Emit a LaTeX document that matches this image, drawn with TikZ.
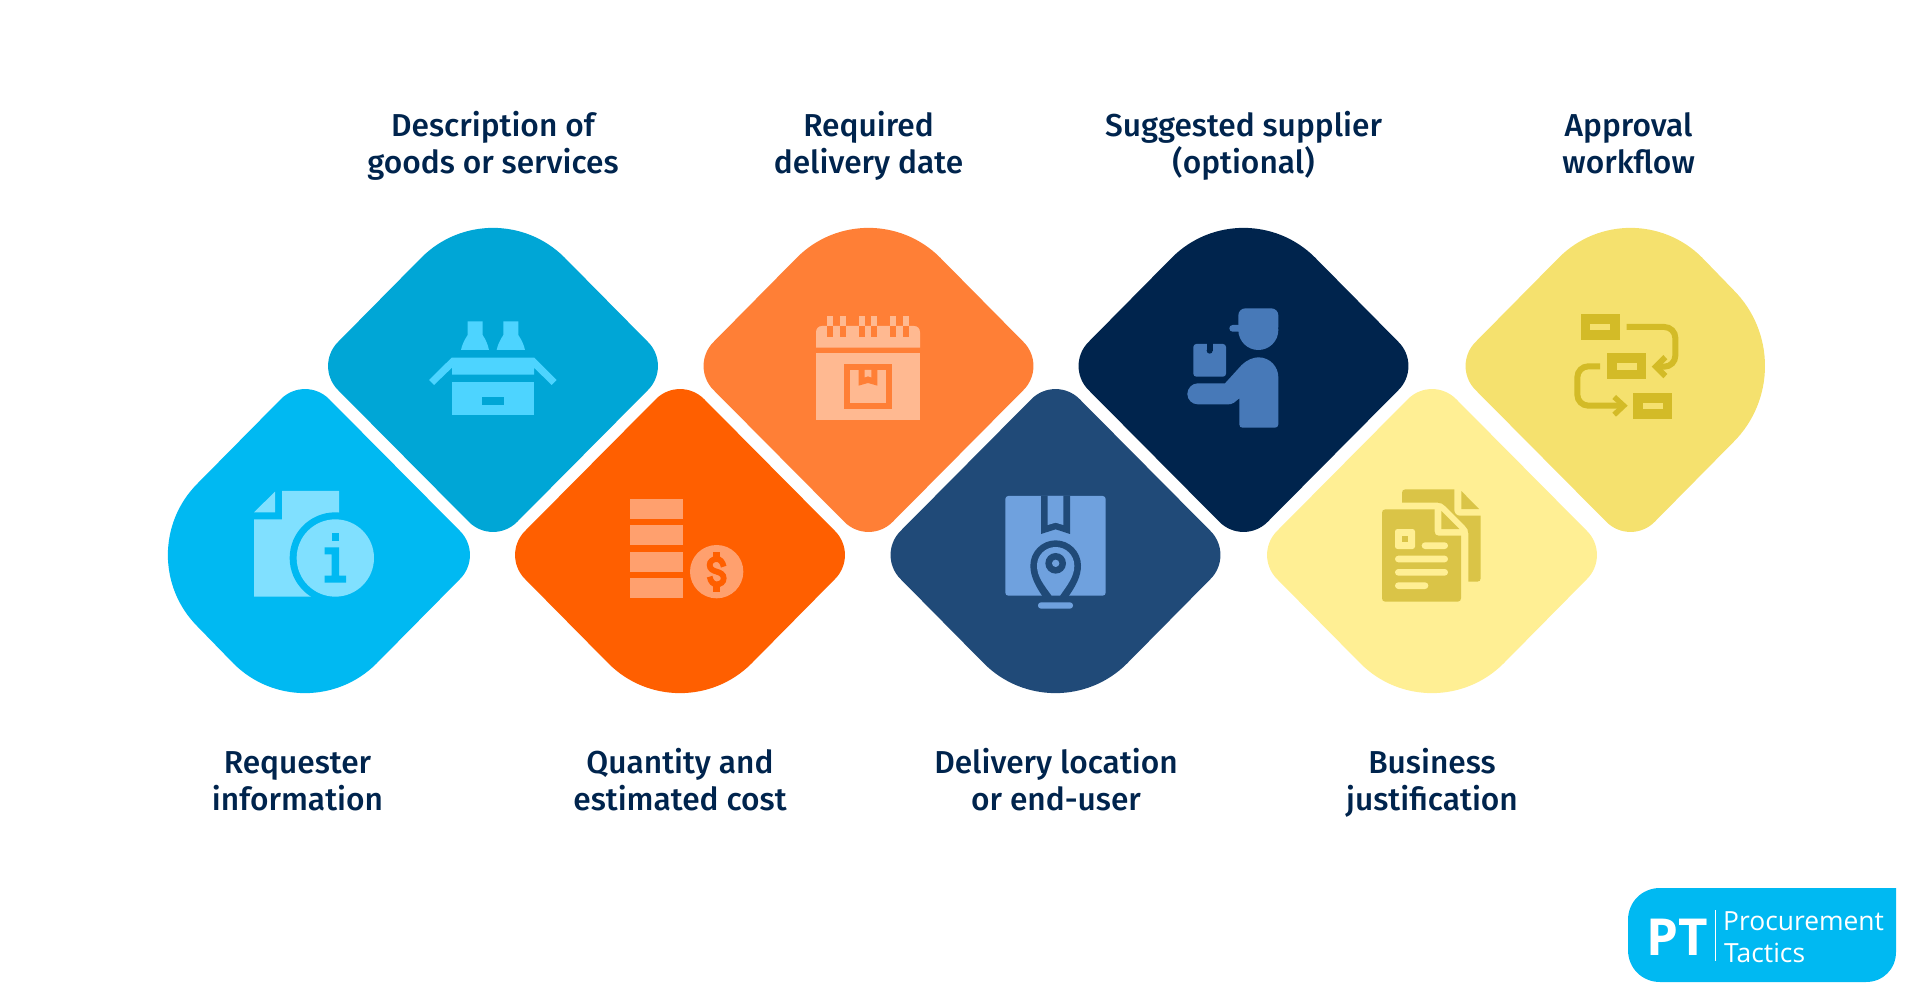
\documentclass[tikz,border=0pt]{standalone}
\usepackage{fontspec}
\setmainfont{Fira Sans Medium}
\newfontfamily\logofont{Open Sans}
\definecolor{d1}{HTML}{00B9F2}\definecolor{i1}{HTML}{80E0FF}
\definecolor{d2}{HTML}{00A6D6}\definecolor{i2}{HTML}{4DD4FF}
\definecolor{d3}{HTML}{FF5F00}\definecolor{i3}{HTML}{FFA06E}
\definecolor{d4}{HTML}{FF7F36}\definecolor{i4}{HTML}{FFB991}
\definecolor{d5}{HTML}{204A78}\definecolor{i5}{HTML}{6FA1DE}
\definecolor{d6}{HTML}{00244D}\definecolor{i6}{HTML}{4779B8}
\definecolor{d7}{HTML}{FFEF94}\definecolor{i7}{HTML}{DAC447}
\definecolor{d8}{HTML}{F5E16E}\definecolor{i8}{HTML}{D3BB27}
\definecolor{ink}{HTML}{00244D}
\newcommand\dia[7]{\fill[#7]
 ({#1-#3},{#2-180+#3}) .. controls ({#1-.4477*#3},{#2-180+.4477*#3}) and ({#1+.4477*#3},{#2-180+.4477*#3}) .. ({#1+#3},{#2-180+#3})
 -- ({#1+179-#4},{#2-#4}) .. controls ({#1+179-.4477*#4},{#2-.4477*#4}) and ({#1+179-.4477*#4},{#2+.4477*#4}) .. ({#1+179-#4},{#2+#4})
 -- ({#1+#5},{#2+180-#5}) .. controls ({#1+.4477*#5},{#2+180-.4477*#5}) and ({#1-.4477*#5},{#2+180-.4477*#5}) .. ({#1-#5},{#2+180-#5})
 -- ({#1-179+#6},{#2+#6}) .. controls ({#1-179+.4477*#6},{#2+.4477*#6}) and ({#1-179+.4477*#6},{#2-.4477*#6}) .. ({#1-179+#6},{#2-#6})
 -- cycle;}
\tikzset{
 lab/.style={text=ink,align=center,anchor=base,inner sep=0pt,font=\fontsize{31.7}{37}\selectfont},
 zoomA/.style={shift={(150,200)},x=0.33333pt,y=-0.33333pt},
 zoomB/.style={shift={(680,200)},x=0.33333pt,y=-0.33333pt},
 zoomD/.style={shift={(1170,290)},x=0.33333pt,y=-0.33333pt},
 zoomE/.style={shift={(1370,480)},x=0.33333pt,y=-0.33333pt},
 zoomF/.style={shift={(1560,300)},x=0.33333pt,y=-0.33333pt}}
\begin{document}
\begin{tikzpicture}[x=1pt,y=-1pt]
\useasboundingbox (0,0) rectangle (1920,1000);
% diamonds
\dia{305}{555}{24}{24}{71.5}{71.5}{d1}
\dia{493}{366}{71.5}{24}{24}{24}{d2}
\dia{680}{555}{24}{24}{71.5}{24}{d3}
\dia{868.5}{366}{71.5}{24}{24}{24}{d4}
\dia{1055.5}{555}{24}{24}{71.5}{24}{d5}
\dia{1243.5}{366}{71.5}{24}{24}{24}{d6}
\dia{1432}{555}{24}{24}{71.5}{24}{d7}
\dia{1630.5}{366}{71.5}{76}{24}{24}{d8}
% icon 1
\begin{scope}[zoomA]
\fill[i1] (396,873)--(567,873)--(567,1000)--(483,1190)--(312,1190)--(312,958)--(396,958)--cycle;
\fill[i1] (312,937)--(375,875)--(375,937)--cycle;
\fill[d1] (556,1074) circle[radius=137];
\fill[i1] (556,1074) circle[radius=116];
\fill[d1] (545,1000) rectangle (567,1022);
\fill[d1] (524,1042)--(567,1042)--(567,1127)--(588,1127)--(588,1148)--(524,1148)--(524,1127)--(545,1127)--(545,1063)--(524,1063)--cycle;
% icon 2
\fill[i2] (953,364)--(998,364)--(998,405) .. controls (1008,420) and (1014,435) .. (1017,450)--(933,450) .. controls (936,435) and (943,420) .. (953,405)--cycle;
\fill[i2] (1060,364)--(1105,364)--(1105,405) .. controls (1115,420) and (1122,435) .. (1125,450)--(1040,450) .. controls (1043,435) and (1050,420) .. (1060,405)--cycle;
\fill[i2] (905,473)--(1153,473)--(1220,540)--(1205,555)--(1152,503)--(1152,524)--(906,524)--(906,503)--(852,555)--(837,540)--cycle;
\fill[i2] (906,547) rectangle (1152,644);
\fill[d2] (995,591) rectangle (1063,615);
% icon 3 bars
\fill[i3] (1440,897) rectangle (1600.5,956);
\fill[i3] (1440,975) rectangle (1600.5,1035);
\fill[i3] (1440,1055) rectangle (1600.5,1115);
\fill[i3] (1440,1135) rectangle (1600.5,1195);
\end{scope}
\begin{scope}[zoomB]
% icon 3 coin
\fill[i3] (110,1115) circle[radius=80];
\fill[d3] (100,1055) rectangle (120,1072);
\fill[d3] (100,1158) rectangle (120,1175);
\draw[d3,line width=5.8pt] (131,1100) .. controls (128,1085) and (120,1077) .. (110,1077) .. controls (98,1077) and (89,1085) .. (89,1095) .. controls (89,1107) and (99,1112) .. (110,1115) .. controls (121,1118) and (131,1123) .. (131,1135) .. controls (131,1146) and (122,1153) .. (110,1153) .. controls (100,1153) and (92,1146) .. (89,1130);
% icon 4
\fill[i4] (408,460) rectangle (720,660);
\fill[i4] (408,443)--(408,397) .. controls (408,386) and (415,378) .. (426,378)--(702,378) .. controls (713,378) and (720,386) .. (720,397)--(720,443)--cycle;
\foreach \u in {441,479,536,574,631,669}{
 \fill[i4] (\u,348) rectangle (\u+18,378);
 \fill[d4] (\u,378) rectangle (\u+18,410);}
\fill[d4] (491,492) rectangle (637,628);
\fill[i4] (510,510) rectangle (618,609);
\fill[d4] (536,510)--(592,510)--(592,557)--(564,549)--(536,557)--cycle;
\fill[i4] (554,510)--(574,510)--(574,532)--(564,529)--(554,532)--cycle;
% icon 5
\fill[i5,rounded corners=3pt] (976,888) rectangle (1277,1187);
\fill[d5] (1083,888)--(1170,888)--(1170,1002)--(1127,988)--(1083,1002)--cycle;
\fill[i5] (1103,888)--(1150,888)--(1150,975)--(1127,968)--(1103,975)--cycle;
\fill[d5] (1088,1190) .. controls (1068,1160) and (1051,1130) .. (1051,1097) .. controls (1051,1055) and (1085,1021) .. (1127,1021) .. controls (1169,1021) and (1203,1055) .. (1203,1097) .. controls (1203,1130) and (1186,1160) .. (1165,1190)--cycle;
\fill[i5] (1115,1187) .. controls (1092,1155) and (1071,1130) .. (1071,1097) .. controls (1071,1066) and (1096,1041) .. (1127,1041) .. controls (1158,1041) and (1183,1066) .. (1183,1097) .. controls (1183,1130) and (1162,1155) .. (1140,1187)--cycle;
\fill[d5] (1127,1090) circle[radius=31];
\fill[i5] (1127,1090) circle[radius=11];
\fill[i5,rounded corners=3pt] (1074,1207) rectangle (1179,1226);
\end{scope}
% icon 6
\begin{scope}[zoomD]
\fill[i6,rounded corners=7pt] (205,55) rectangle (325,130);
\fill[i6] (265,120) circle[radius=60];
\fill[i6,rounded corners=3.3pt] (178,105) rectangle (215,125);
\fill[i6,rounded corners=3pt] (70,162) rectangle (168,260);
\fill[d6] (110,155) rectangle (128,182);
\fill[d6] (119,182) circle[radius=9];
\fill[i6] (83,280)--(165,280)--(215,225) .. controls (230,210) and (250,202) .. (265,202) .. controls (300,202) and (325,230) .. (325,262)--(325,403) .. controls (325,410) and (320,413) .. (315,413)--(218,413) .. controls (212,413) and (208,410) .. (208,403)--(208,325)--(192,338) .. controls (186,342) and (180,343) .. (175,343)--(83,343) .. controls (66,343) and (52,329) .. (52,312) .. controls (52,295) and (66,280) .. (83,280)--cycle;
\end{scope}
% icon 7
\begin{scope}[zoomE]
\fill[i7] (96,38) .. controls (96,32) and (100,28) .. (106,28)--(253,28)--(253,90) .. controls (253,100) and (260,107) .. (270,107)--(332,107)--(332,295) .. controls (332,301) and (328,305) .. (322,305)--(295,305)--(295,160) .. controls (295,150) and (291,144) .. (285,138)--(225,78) .. controls (219,72) and (213,68) .. (203,68)--(96,68)--cycle;
\fill[i7] (274,33)--(327,87)--(274,87)--cycle;
\fill[i7] (36,98) .. controls (36,92) and (40,88) .. (46,88)--(194,88)--(194,155) .. controls (194,163) and (198,167) .. (206,167)--(273,167)--(273,355) .. controls (273,361) and (269,365) .. (263,365)--(46,365) .. controls (40,365) and (36,361) .. (36,355)--cycle;
\fill[i7] (214,93)--(268,147)--(214,147)--cycle;
\fill[d7,rounded corners=2.5pt] (75,147) rectangle (135,207);
\fill[i7] (95,167) rectangle (115,187);
\fill[d7,rounded corners=3.3pt] (155,187) rectangle (234,207);
\fill[d7,rounded corners=3.3pt] (75,227) rectangle (234,247);
\fill[d7,rounded corners=3.3pt] (75,267) rectangle (234,287);
\fill[d7,rounded corners=3.3pt] (75,307) rectangle (175,327);
\end{scope}
% icon 8
\begin{scope}[zoomF]
\fill[i8] (62,42) rectangle (180,120);
\fill[d8] (91,72) rectangle (151,91);
\fill[i8] (140,160) rectangle (258,238);
\fill[d8] (170,190) rectangle (230,209);
\fill[i8] (219,278) rectangle (337,356);
\fill[d8] (248,308) rectangle (308,327);
\draw[i8,line width=6pt,rounded corners=11pt] (200,81)--(346,81)--(346,200)--(295,200);
\fill[i8] (310,165)--(322,178)--(300,200)--(322,222)--(310,235)--(275,200)--cycle;
\draw[i8,line width=6pt,rounded corners=11pt] (120,199)--(52,199)--(52,317)--(185,317);
\fill[i8] (168,285)--(203,317)--(168,350)--(157,338)--(180,317)--(157,297)--cycle;
\end{scope}
% labels
\node[lab] (t1) at (493,173.7) {Description of\\goods or services};
\node[lab] (t2) at (868.5,173.7) {Required\\delivery date};
\node[lab] (t3) at (1243.5,173.7) {Suggested supplier\\(optional)};
\node[lab] (t4) at (1628.6,173.7) {Approval\\workflow};
\node[lab] (t5) at (297.5,810.5) {Requester\\information};
\node[lab] (t6) at (680,810.5) {Quantity and\\estimated cost};
\node[lab] (t7) at (1056,810.5) {Delivery location\\or end-user};
\node[lab] (t8) at (1432,810.5) {Business\\justification};
% logo
\fill[d1] (1896,888)--(1660,888) .. controls (1642,888) and (1628,902) .. (1628,920)--(1628,950) .. controls (1628,968) and (1642,982) .. (1660,982)--(1866,982) .. controls (1883,982) and (1896,969) .. (1896,952)--cycle;
\node[anchor=base,inner sep=0pt,text=white,font=\logofont\bfseries\fontsize{51}{51}\selectfont] (pt) at (1677.5,955) {PT};
\node[anchor=base west,inner sep=0pt,text=white,font=\logofont\fontsize{26.4}{27}\selectfont] (pr) at (1723,930.5) {Procurement};
\node[anchor=base west,inner sep=0pt,text=white,font=\logofont\fontsize{26.4}{27}\selectfont] (ta) at (1724,962.5) {Tactics};
\coordinate (sa) at (1715.7,910);
\coordinate (sb) at (1715.7,960.7);
\draw[white,line width=1.3pt] (sa)--(sb);
\end{tikzpicture}
\end{document}
